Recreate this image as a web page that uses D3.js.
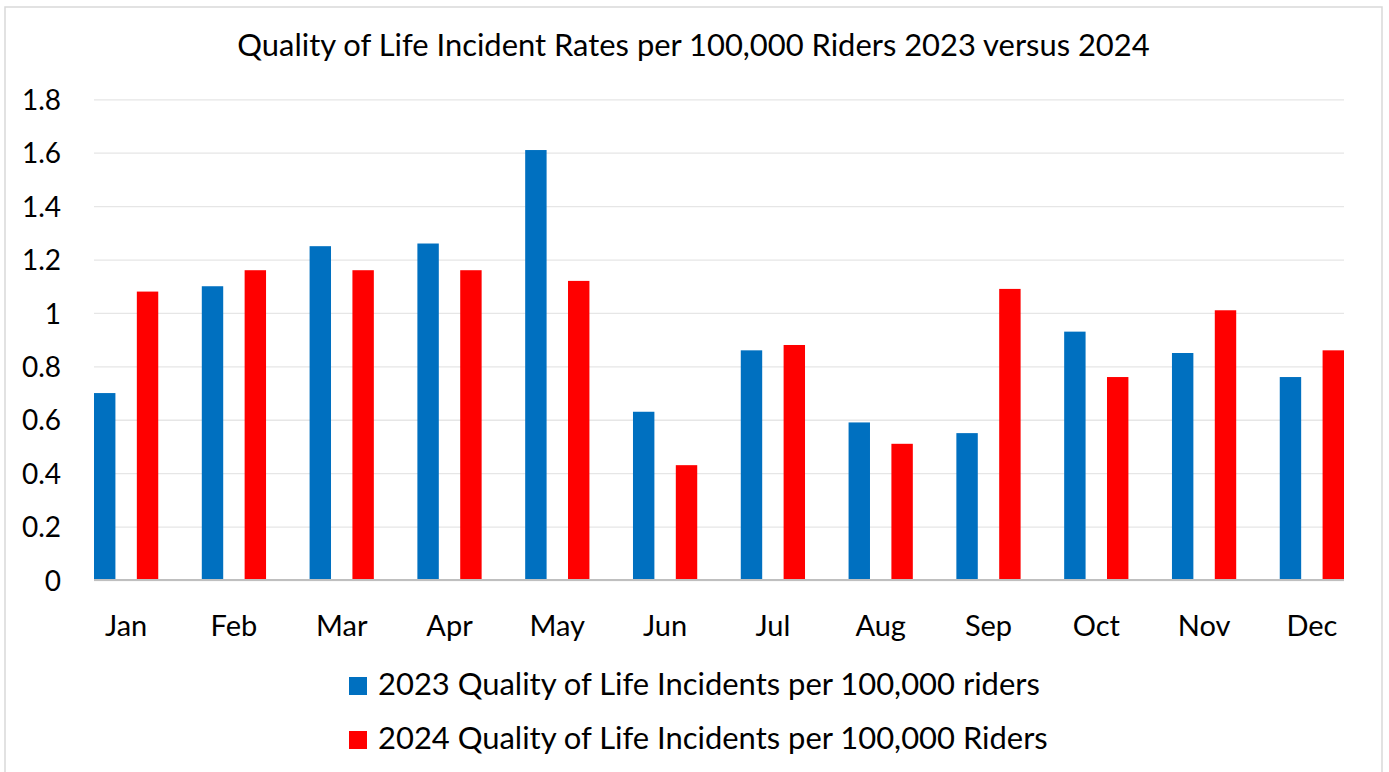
<!DOCTYPE html>
<html>
<head>
<meta charset="utf-8">
<script src="https://cdn.jsdelivr.net/npm/d3@7"></script>
<style>
  body { margin: 0; background: #fff; }
  text { font-family: Lato, "Open Sans", sans-serif; fill: #000; }
</style>
</head>
<body>
<svg id="chart" width="1389" height="772"></svg>
<script>
// data
var months = ["Jan", "Feb", "Mar", "Apr", "May", "Jun", "Jul", "Aug", "Sep", "Oct", "Nov", "Dec"];
var rates2023 = [0.70, 1.10, 1.25, 1.26, 1.61, 0.63, 0.86, 0.59, 0.55, 0.93, 0.85, 0.76];
var rates2024 = [1.08, 1.16, 1.16, 1.16, 1.12, 0.43, 0.88, 0.51, 1.09, 0.76, 1.01, 0.86];
var seriesNames = ["2023 Quality of Life Incidents per 100,000 riders", "2024 Quality of Life Incidents per 100,000 Riders"];
var seriesColors = ["#0070C0", "#FF0000"];
var yTicks = [0, 0.2, 0.4, 0.6, 0.8, 1, 1.2, 1.4, 1.6, 1.8];
var yTickLabels = ["0", "0.2", "0.4", "0.6", "0.8", "1", "1.2", "1.4", "1.6", "1.8"];
var title = "Quality of Life Incident Rates per 100,000 Riders 2023 versus 2024";

var svg = d3.select("#chart");
var plot = { left: 94, right: 1344, top: 99.3, bottom: 580 };

// fit a text element to a target width by changing its font size
function fitWidth(sel, target) {
  var len = sel.node().getComputedTextLength();
  var fs = parseFloat(sel.attr("font-size"));
  sel.attr("font-size", fs * target / len);
}

// outer frame
svg.append("rect")
  .attr("x", 5).attr("y", 7)
  .attr("width", 1377).attr("height", 800)
  .attr("fill", "#fff")
  .attr("stroke", "#d9d9d9")
  .attr("stroke-width", 1.5);

var x = d3.scaleBand().domain(months).range([plot.left, plot.right])
  .paddingInner(0.404).paddingOuter(0);
var xs = d3.scaleBand().domain([0, 1]).range([0, x.bandwidth()]).paddingInner(0.5);
var y = d3.scaleLinear().domain([0, 1.8]).range([plot.bottom, plot.top]);

// gridlines
var grid = svg.append("g")
  .attr("transform", "translate(" + plot.left + ",0)")
  .call(d3.axisRight(y).tickValues(yTicks).tickSize(plot.right - plot.left).tickFormat(""));
grid.select(".domain").remove();
grid.selectAll("line").attr("stroke", "#e6e6e6").attr("stroke-width", 1.3);

// y labels
var yAxis = svg.append("g")
  .attr("transform", "translate(" + plot.left + ",0)")
  .call(d3.axisLeft(y).tickValues(yTicks).tickSize(0).tickPadding(33)
    .tickFormat(function (d, i) { return yTickLabels[i]; }));
yAxis.select(".domain").remove();
yAxis.selectAll("text")
  .attr("font-size", 28)
  .attr("dy", "0.36em")
  .style("font-family", "Lato, sans-serif")
  .attr("fill", "#000");

// bars
var groups = svg.append("g").selectAll("g")
  .data(months)
  .join("g")
  .attr("transform", function (d) { return "translate(" + x(d) + ",0)"; });

groups.selectAll("rect")
  .data(function (d, i) { return [rates2023[i], rates2024[i]]; })
  .join("rect")
  .attr("x", function (d, j) { return xs(j); })
  .attr("y", function (d) { return y(d); })
  .attr("width", xs.bandwidth())
  .attr("height", function (d) { return y(0) - y(d); })
  .attr("fill", function (d, j) { return seriesColors[j]; });

// x axis
var xAxis = svg.append("g")
  .attr("transform", "translate(0," + plot.bottom + ")")
  .call(d3.axisBottom(x).tickSize(0).tickPadding(0));
xAxis.select(".domain").remove();
xAxis.selectAll("text")
  .attr("y", 56).attr("dy", 0)
  .attr("font-size", 29)
  .style("font-family", "Lato, sans-serif")
  .attr("fill", "#000");

svg.append("line")
  .attr("x1", plot.left).attr("x2", plot.right)
  .attr("y1", plot.bottom).attr("y2", plot.bottom)
  .attr("stroke", "#bfbfbf").attr("stroke-width", 2);

// title
var t = svg.append("text")
  .attr("x", 693.5).attr("y", 56)
  .attr("text-anchor", "middle")
  .attr("font-size", 28)
  .text(title);
fitWidth(t, 913);

// legend
var legendRows = [695, 749];
var legendWidths = [662, 670];
seriesNames.forEach(function (name, i) {
  svg.append("rect")
    .attr("x", 349).attr("y", legendRows[i] - 18)
    .attr("width", 18).attr("height", 18)
    .attr("fill", seriesColors[i]);
  var lt = svg.append("text")
    .attr("x", 378).attr("y", legendRows[i])
    .attr("font-size", 28)
    .text(name);
  fitWidth(lt, legendWidths[i]);
});
</script>
</body>
</html>
